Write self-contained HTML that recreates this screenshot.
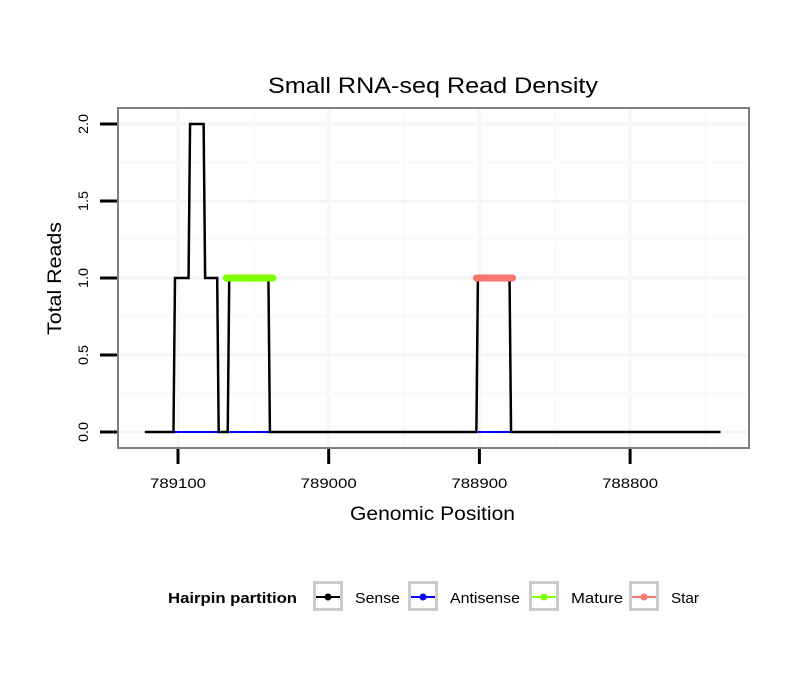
<!DOCTYPE html>
<html><head><meta charset="utf-8"><style>
body{margin:0;background:#fff;font-family:"Liberation Sans",sans-serif}
</style></head><body>
<svg id="c" width="810" height="690" xmlns="http://www.w3.org/2000/svg" font-family="Liberation Sans, sans-serif">
<rect width="810" height="690" fill="#fff"/>
<text x="268" y="93" textLength="330" lengthAdjust="spacingAndGlyphs" font-size="22">Small RNA-seq Read Density</text>
<g id="grid"></g>
<g id="series"></g>
<rect x="118" y="108" width="631" height="340" fill="none" stroke="#7f7f7f" stroke-width="2"/>
<g id="axes"></g>
<text x="350" y="520" textLength="165" lengthAdjust="spacingAndGlyphs" font-size="19">Genomic Position</text>
<text transform="translate(61,335) rotate(-90)" textLength="113" lengthAdjust="spacingAndGlyphs" font-size="19">Total Reads</text>
<g id="legend"></g>
</svg>
<script>
const xTicks=[789100,789000,788900,788800];
const xTickLabels=["789100","789000","788900","788800"];
const yTicks=[0,0.5,1,1.5,2];
const yTickLabels=["0.0","0.5","1.0","1.5","2.0"];
const sensePos=[789122,789103,789102,789093,789092,789083,789082,789074,789073,789067,789066,789040,789039,788902,788901,788880,788879,788740];
const senseVal=[0,0,1,1,2,2,1,1,0,0,1,1,0,0,1,1,0,0];
const antisenseStart=[789103,789066,788901];
const antisenseEnd=[789073,789039,788879];
const matureStart=[789068];const matureEnd=[789037];const matureVal=[1];
const starStart=[788902];const starEnd=[788878];const starVal=[1];
const legendLabels=["Sense","Antisense","Mature","Star"];
const legendColors=["#000","#0000ff","#7fff00","#f8766d"];

const NS="http://www.w3.org/2000/svg";
const X=p=>178+(789100-p)*1.507;
const Y=v=>432-v*154;
function mk(t,a,parent){const e=document.createElementNS(NS,t);for(const k in a)e.setAttribute(k,a[k]);parent.appendChild(e);return e;}
const grid=document.getElementById('grid'),series=document.getElementById('series'),axes=document.getElementById('axes'),legend=document.getElementById('legend');
for(let i=-1;i<xTicks.length;i++){
  const xs=[];if(i>=0)xs.push(X(xTicks[i]));xs.push(X((i>=0?xTicks[i]:xTicks[0]+100)-50));
  xs.forEach((x,j)=>{if(x<119||x>748)return;const maj=(i>=0&&j==0);const l=mk('line',{x1:x,x2:x,y1:109,y2:447,stroke:maj?'#f6f6f6':'#fafafa','stroke-width':maj?3:2},grid);
  });
}
for(let v=-0.25;v<=2.25;v+=0.25){const y=Y(v);if(y<109||y>447)continue;const maj=Math.abs(v*2-Math.round(v*2))<1e-6;
  const l=mk('line',{x1:119,x2:748,y1:y,y2:y,stroke:maj?'#f6f6f6':'#fafafa','stroke-width':maj?3:2},grid);
  }
xTicks.forEach((t,i)=>{const x=X(t);
  const l=mk('line',{x1:x,x2:x,y1:449,y2:464,stroke:'#000','stroke-width':3},axes);
  
  const tx=mk('text',{x:x-28,y:488,textLength:56,lengthAdjust:'spacingAndGlyphs','font-size':14},axes);tx.textContent=xTickLabels[i];
  });
yTicks.forEach((t,i)=>{const y=Y(t);
  const l=mk('line',{x1:100,x2:117,y1:y,y2:y,stroke:'#000','stroke-width':3},axes);
  
  const tx=mk('text',{transform:`translate(88,${y+10}) rotate(-90)`,textLength:20,lengthAdjust:'spacingAndGlyphs','font-size':14},axes);tx.textContent=yTickLabels[i];
  });
antisenseStart.forEach((s,i)=>{const l=mk('line',{x1:X(s),x2:X(antisenseEnd[i]),y1:Y(0),y2:Y(0),stroke:'#0000ff','stroke-width':2},series);
  });
const p=mk('polyline',{points:sensePos.map((s,i)=>X(s)+','+Y(senseVal[i])).join(' '),fill:'none',stroke:'#000','stroke-width':2.5,'stroke-linejoin':'miter'},series);

matureStart.forEach((s,i)=>{const l=mk('line',{x1:X(s),x2:X(matureEnd[i]),y1:Y(matureVal[i]),y2:Y(matureVal[i]),stroke:'#7fff00','stroke-width':7,'stroke-linecap':'round'},series);
  });
starStart.forEach((s,i)=>{const l=mk('line',{x1:X(s),x2:X(starEnd[i]),y1:Y(starVal[i]),y2:Y(starVal[i]),stroke:'#f8766d','stroke-width':7,'stroke-linecap':'round'},series);
  });
const lt=mk('text',{x:168,y:603,'font-size':15,'font-weight':'bold',textLength:129,lengthAdjust:'spacingAndGlyphs'},legend);lt.textContent='Hairpin partition';

const keyX=[313,408,529,629];
const labW=[45,70,52,28];
legendLabels.forEach((lab,i)=>{const x=keyX[i];
  const g=mk('g',{},legend);
  mk('rect',{x:x+1.5,y:582.5,width:27,height:27,fill:'#fff',stroke:'#cccccc','stroke-width':3},g);
  mk('line',{x1:x+3,x2:x+27,y1:597,y2:597,stroke:legendColors[i],'stroke-width':2},g);
  mk('circle',{cx:x+15,cy:597,r:3.5,fill:legendColors[i]},g);
  const t=mk('text',{x:x+42,y:603,'font-size':15,textLength:labW[i],lengthAdjust:'spacingAndGlyphs'},g);t.textContent=lab;});
</script>
</body></html>
